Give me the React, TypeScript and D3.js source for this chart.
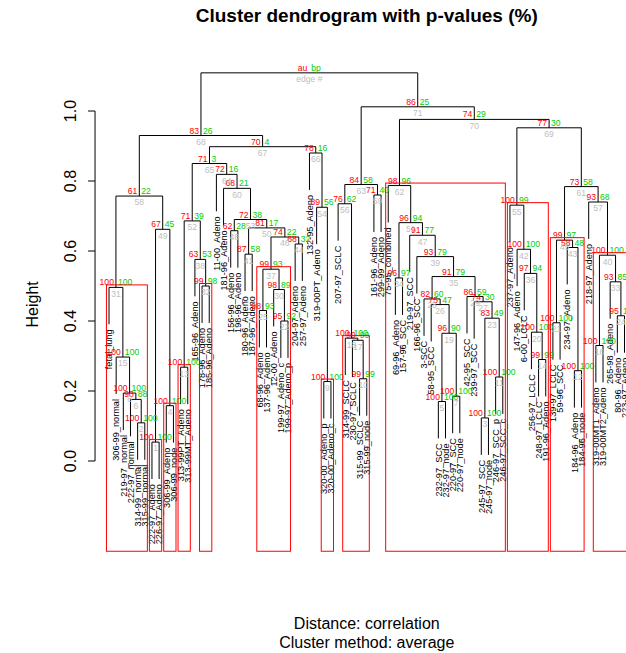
import React from 'react';
import * as d3 from 'd3';

// ---------- data ----------
const leafLabels = [
  'fetal_lung', '306-99_normal', '219-97_normal', '222-97_normal', '314-99_normal', '315-99_normal',
  '222-97_Adeno', '226-97_Adeno', '306-99_Adeno', '306-99_node', '313-99PT_Adeno', '313-99MT_Adeno',
  '165-96_Adeno', '178-96_Adeno', '185-96_Adeno', '11-00_Adeno', '181-96_Adeno', '156-96_Adeno',
  '198-96_Adeno', '180-96_Adeno', '187-96_Adeno', '68-96_Adeno', '137-96_Adeno', '12-00_Adeno',
  '199-97_Adeno_c', '199-97_Adeno_p', '204-97_Adeno', '257-97_Adeno', '132-95_Adeno', '319-00PT_Adeno',
  '320-00_Adeno_p', '320-00_Adeno_c', '207-97_SCLC', '314-99_SCLC', '230-97_SCLC', '315-99_SCLC',
  '315-99_node', '161-96_Adeno', '299-99_Adeno', '75-95_combined', '69-96_Adeno', '157-96_SCC',
  '219-97_SCC', '166-96_SCC', '3-SCC', '58-95_SCC', '232-97_SCC', '232-97_node', '220-97_SCC',
  '220-97_node', '42-95_SCC', '239-97_SCC', '245-97_SCC', '245-97_node', '246-97_SCC_p', '246-97_SCC_c',
  '237-97_Adeno', '147-96_Adeno', '6-00_LCLC', '256-97_LCLC', '248-97_LCLC', '191-96_Adeno',
  '139-97_LCLC', '59-96_SCC', '234-97_Adeno', '184-96_Adeno', '184-96_node', '218-97_Adeno',
  '319-00MT1_Adeno', '319-00MT2_Adeno', '265-98_Adeno', '80-96_Adeno', '223-97_Adeno',
];

// merges (edge 1..72): negative = leaf -(index+1), positive = edge number
const mergeLeft = [
  -7, -5, -53, -9, -47, -4, -49, -3, -31, -36,
  -55, -66, -11, -61, -2, -69, -35, -34, 5, -60,
  -63, -25, 3, -72, -22, -46, -52, -45, -51, -24,
  -1, -14, -71, -41, 28, -59, 25, -13, -44, 16,
  -20, -58, -65, -27, 21, 37, -43, -18, 1, 41,
  34, 13, 48, -30, -57, -33, -68, 31, -38, -17,
  45, -40, 56, -16, 52, -29, 65, 58, 55, 62,
  63, 68,
];
const mergeRight = [
  -8, -6, -54, -10, -48, 2, -50, 6, -32, -37,
  -56, -67, -12, -62, 8, -70, 10, 17, 7, 14,
  -64, -26, 11, -73, -23, 19, 23, 26, 27, 22,
  15, -15, 24, -42, 29, 20, 30, 32, 35, 33,
  -21, 36, 12, -28, 43, 44, 39, -19, 4, 46,
  47, 38, 50, 9, 42, 18, 40, 49, -39, 53,
  57, 51, 59, 60, 64, 54, 66, 67, 61, 69,
  70, 71,
];
const heights = [
  0.054, 0.109, 0.123, 0.158, 0.170, 0.176, 0.185, 0.194, 0.227, 0.235,
  0.240, 0.258, 0.268, 0.290, 0.297, 0.330, 0.345, 0.351, 0.365, 0.368,
  0.395, 0.400, 0.408, 0.415, 0.430, 0.447, 0.455, 0.463, 0.470, 0.490,
  0.496, 0.500, 0.512, 0.523, 0.527, 0.536, 0.548, 0.576, 0.584, 0.588,
  0.591, 0.605, 0.610, 0.620, 0.631, 0.640, 0.645, 0.658, 0.662, 0.666,
  0.681, 0.686, 0.690, 0.725, 0.731, 0.735, 0.740, 0.757, 0.760, 0.779,
  0.784, 0.787, 0.790, 0.819, 0.850, 0.880, 0.898, 0.930, 0.952, 0.976,
  1.012, 1.109,
];
const auValues = [
  100, 100, 100, 100, 100, 90, 100, 100, 100, 99,
  100, 100, 100, 99, 100, 100, 99, 100, 96, 100,
  100, 95, 83, 95, 98, 75, 74, 82, 86, 98,
  100, 99, 93, 96, 91, 97, 99, 63, 93, 100,
  87, 100, 58, 68, 99, 74, 91, 62, 67, 81,
  96, 71, 72, 89, 100, 76, 93, 61, 71, 68,
  73, 98, 84, 72, 71, 78, 70, 83, 77, 74,
  86, 100,
];
const bpValues = [
  100, 100, 100, 100, 100, 88, 100, 100, 100, 99,
  100, 100, 100, 99, 100, 100, 99, 100, 90, 100,
  100, 92, 49, 100, 93, 47, 30, 60, 59, 89,
  100, 98, 85, 97, 79, 94, 93, 53, 79, 100,
  58, 100, 48, 32, 97, 22, 77, 28, 45, 17,
  94, 39, 38, 56, 99, 62, 68, 22, 40, 21,
  58, 96, 58, 16, 3, 16, 4, 26, 30, 29,
  25, 100,
];
const yTicks = [0, 0.2, 0.4, 0.6, 0.8, 1.0];
const titleText = 'Cluster dendrogram with p-values (%)';
const xLabelText = 'Distance: correlation';
const subLabelText = 'Cluster method: average';
const yLabelText = 'Height';
const alphaPct = 95;

// ---------- layout ----------
const W = 626;
const H = 653;
const nLeaf = leafLabels.length;
const xScale = d3.scaleLinear().domain([0, nLeaf - 1]).range([109, 624.5]);
const yScale = d3.scaleLinear().domain([0, 1]).range([461, 111]);
const xExt = 1.95;
const usrLeft = xScale(-xExt);
const usrRight = xScale(nLeaf - 1 + xExt);
const usrBottomH = -0.265;
const usrTopH = 1.16;
const widPx = yScale(usrBottomH) - yScale(usrTopH);
const maxH = d3.max(heights) as number;
const minH = d3.min(heights) as number;
const hang = 0.1 * (maxH - minH);

const COL_AU = '#FF0000';
const COL_BP = '#00CD00';
const COL_EDGE = '#BEBEBE';
const FONT = "'Liberation Sans', Arial, Helvetica, sans-serif";

type Node = { x: number; h: number; members: number[] };

function build() {
  const nodes: Node[] = [];
  const childInfo = (ref: number) => {
    if (ref < 0) {
      const li = -ref - 1;
      return { x: xScale(li), h: NaN, members: [li], leaf: true };
    }
    const n = nodes[ref - 1];
    return { x: n.x, h: n.h, members: n.members, leaf: false };
  };
  const segs: { x1: number; y1: number; x2: number; y2: number }[] = [];
  const leafEnds: { x: number; y: number; label: string }[] = [];
  for (let i = 0; i < heights.length; i++) {
    const a = childInfo(mergeLeft[i]);
    const b = childInfo(mergeRight[i]);
    const h = heights[i];
    const y = yScale(h);
    segs.push({ x1: a.x, y1: y, x2: b.x, y2: y });
    for (const [c, ref] of [[a, mergeLeft[i]], [b, mergeRight[i]]] as const) {
      const ch = c.leaf ? h - hang : c.h;
      segs.push({ x1: c.x, y1: y, x2: c.x, y2: yScale(ch) });
      if (c.leaf) leafEnds.push({ x: c.x, y: yScale(ch), label: leafLabels[-ref - 1] });
    }
    nodes.push({ x: (a.x + b.x) / 2, h, members: [...a.members, ...b.members] });
  }
  // pvrect (max.only)
  const covered = new Set<number>();
  const rects: { x0: number; x1: number; yTop: number }[] = [];
  for (let i = heights.length - 2; i >= 0; i--) {
    if (auValues[i] >= alphaPct) {
      const m = nodes[i].members;
      if (!m.some((l) => covered.has(l))) {
        rects.push({ x0: d3.min(m) as number, x1: d3.max(m) as number, yTop: nodes[i].h });
      }
      m.forEach((l) => covered.add(l));
    }
  }
  return { nodes, segs, leafEnds, rects };
}

export default function App() {
  const { nodes, segs, leafEnds, rects } = build();
  const mxPx = (xScale(nLeaf - 1) - xScale(0)) / (nLeaf - 1) / 2.8;
  const myPx = widPx / 200;
  const floatPx = widPx * 0.01;
  const rectBottom = yScale(usrBottomH) - myPx;
  const plotCx = (usrLeft + usrRight) / 2;
  const plotCy = (yScale(usrBottomH) + yScale(usrTopH)) / 2;
  const nE = heights.length;
  return (
    <svg width={W} height={H} style={{ position: 'absolute', left: 0, top: 0, background: '#fff' }} fontFamily={FONT}>
      <text x={plotCx} y={22} textAnchor="middle" fontWeight="bold" fontSize={19}>{titleText}</text>
      {/* dendrogram */}
      <g stroke="#000" strokeWidth={1} fill="none">
        {segs.map((s, i) => (
          <line key={i} x1={s.x1} y1={s.y1} x2={s.x2} y2={s.y2} />
        ))}
      </g>
      {/* leaf labels */}
      <g fontSize={9.2} fill="#000">
        {leafEnds.map((l, i) => (
          <text key={i} transform={`translate(${l.x},${l.y + 5}) rotate(-90)`} textAnchor="end" dy="0.35em">{l.label}</text>
        ))}
      </g>
      {/* p-values */}
      <g fontSize={8.6}>
        {nodes.map((n, i) => {
          const y = yScale(n.h);
          const isRoot = i === nE - 1;
          return (
            <g key={i}>
              <text x={n.x - 2} y={y - floatPx} textAnchor="end" dy="0.35em" fill={COL_AU}>{isRoot ? 'au' : auValues[i]}</text>
              <text x={n.x + 2} y={y - floatPx} textAnchor="start" dy="0.35em" fill={COL_BP}>{isRoot ? 'bp' : bpValues[i]}</text>
              <text x={n.x} y={y + 2.5} textAnchor="middle" dy="0.8em" fill={COL_EDGE}>{isRoot ? 'edge #' : i + 1}</text>
            </g>
          );
        })}
      </g>
      {/* rectangles */}
      <g stroke={COL_AU} strokeWidth={1} fill="none">
        {rects.map((r, i) => (
          <rect key={i} x={xScale(r.x0) - mxPx} y={yScale(r.yTop) - myPx} width={xScale(r.x1) - xScale(r.x0) + 2 * mxPx} height={rectBottom - (yScale(r.yTop) - myPx)} />
        ))}
      </g>
      {/* y axis */}
      <g>
        <line x1={usrLeft} x2={usrLeft} y1={yScale(yTicks[0])} y2={yScale(yTicks[yTicks.length - 1])} stroke="#000" />
        {yTicks.map((t) => (
          <g key={t}>
            <line x1={usrLeft - 7} x2={usrLeft} y1={yScale(t)} y2={yScale(t)} stroke="#000" />
            <text transform={`translate(${usrLeft - 19},${yScale(t)}) rotate(-90)`} textAnchor="middle" fontSize={16}>{t.toFixed(1)}</text>
          </g>
        ))}
        <text transform={`translate(${usrLeft - 57},${plotCy}) rotate(-90)`} textAnchor="middle" fontSize={16}>{yLabelText}</text>
      </g>
      <text x={plotCx} y={629} textAnchor="middle" fontSize={16}>{xLabelText}</text>
      <text x={plotCx} y={648} textAnchor="middle" fontSize={16}>{subLabelText}</text>
    </svg>
  );
}
